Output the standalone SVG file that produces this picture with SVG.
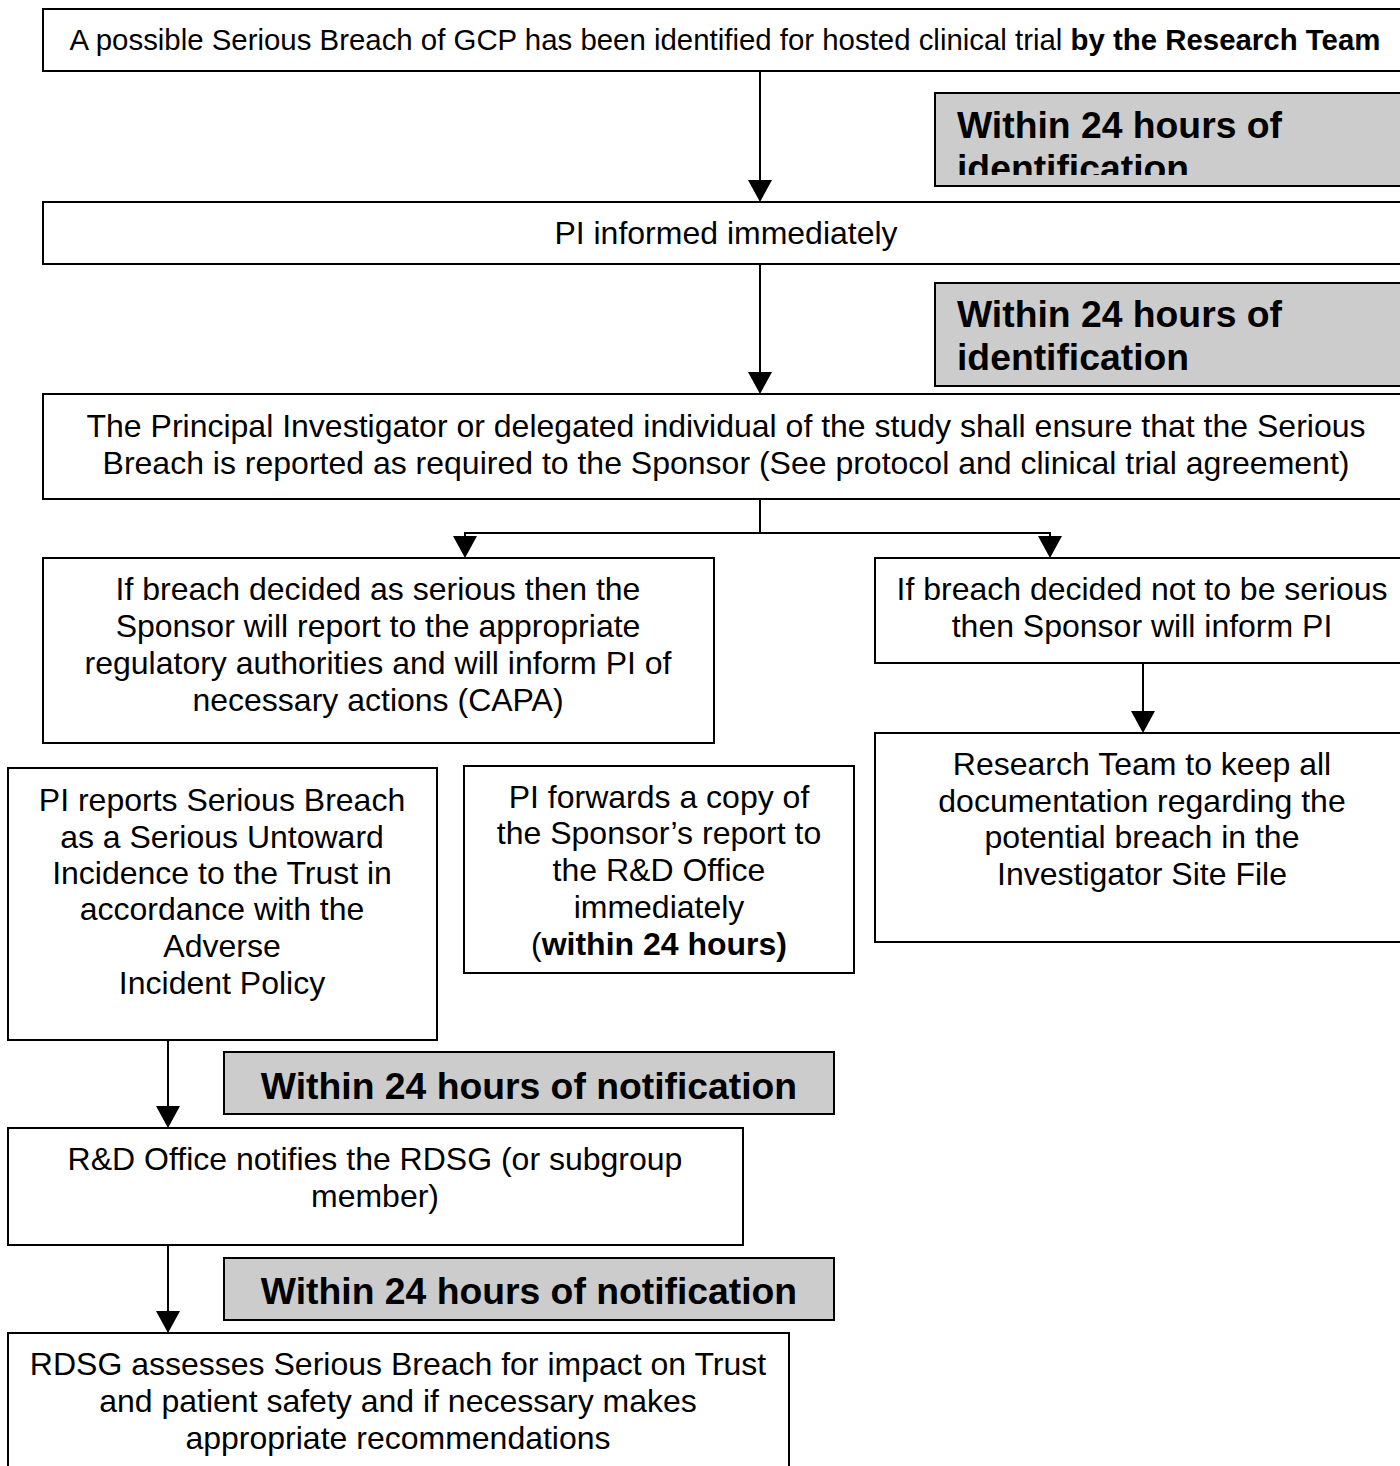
<svg xmlns="http://www.w3.org/2000/svg" width="1400" height="1466" viewBox="0 0 1400 1466">
<style>
.box{fill:#ffffff;stroke:#000;stroke-width:2}
.gray{fill:#cccccc;stroke:#000;stroke-width:2}
.t{font-family:"Liberation Sans",Arial,sans-serif;font-size:32px;fill:#000;text-anchor:middle}
.s{font-size:29.4px}
.g{font-family:"Liberation Sans",Arial,sans-serif;font-size:37.3px;font-weight:bold;fill:#000}
.c{fill:none;stroke:#000;stroke-width:2}
</style>
<defs>
<clipPath id="clip1"><rect x="935" y="94" width="470" height="81"/></clipPath>
</defs>
<g id="connectors">
<line class="c" x1="760" y1="71" x2="760" y2="190"/>
<line class="c" x1="760" y1="264" x2="760" y2="384"/>
<line class="c" x1="760" y1="499" x2="760" y2="533"/>
<polyline class="c" points="465,548 465,533 1050,533 1050,548"/>
<line class="c" x1="1143" y1="663" x2="1143" y2="723"/>
<line class="c" x1="168" y1="1040" x2="168" y2="1118"/>
<line class="c" x1="168" y1="1245" x2="168" y2="1323"/>
<g fill="#000">
<path d="M748,180 L772,180 L760,202 Z"/>
<path d="M748,372 L772,372 L760,394 Z"/>
<path d="M453,536 L477,536 L465,558 Z"/>
<path d="M1038,536 L1062,536 L1050,558 Z"/>
<path d="M1131,711 L1155,711 L1143,733 Z"/>
<path d="M156,1106 L180,1106 L168,1128 Z"/>
<path d="M156,1311 L180,1311 L168,1333 Z"/>
</g>
</g>
<g id="n1">
<rect class="box" x="43" y="9" width="1366" height="62"/>
<text class="t s" x="725" y="50">A possible Serious Breach of GCP has been identified for hosted clinical trial <tspan font-weight="bold">by the Research Team</tspan></text>
</g>
<g id="g1">
<rect class="gray" x="935" y="93" width="470" height="93"/>
<g clip-path="url(#clip1)">
<text class="g" x="957" y="138">Within 24 hours of</text>
<text class="g" x="957" y="181">identification</text>
</g>
</g>
<g id="n2">
<rect class="box" x="43" y="202" width="1366" height="62"/>
<text class="t" x="726" y="244">PI informed immediately</text>
</g>
<g id="g2">
<rect class="gray" x="935" y="283" width="470" height="103"/>
<text class="g" x="957" y="327">Within 24 hours of</text>
<text class="g" x="957" y="370">identification</text>
</g>
<g id="n3">
<rect class="box" x="43" y="394" width="1366" height="105"/>
<text class="t" x="726" y="437">The Principal Investigator or delegated individual of the study shall ensure that the Serious</text>
<text class="t" x="726" y="474">Breach is reported as required to the Sponsor (See protocol and clinical trial agreement)</text>
</g>
<g id="n4">
<rect class="box" x="43" y="558" width="671" height="185"/>
<text class="t" x="378" y="600">If breach decided as serious then the</text>
<text class="t" x="378" y="637">Sponsor will report to the appropriate</text>
<text class="t" x="378" y="674">regulatory authorities and will inform PI of</text>
<text class="t" x="378" y="711">necessary actions (CAPA)</text>
</g>
<g id="n5">
<rect class="box" x="875" y="558" width="534" height="105"/>
<text class="t" x="1142" y="600">If breach decided not to be serious</text>
<text class="t" x="1142" y="637">then Sponsor will inform PI</text>
</g>
<g id="n6">
<rect class="box" x="875" y="733" width="534" height="209"/>
<text class="t" x="1142" y="775">Research Team to keep all</text>
<text class="t" x="1142" y="812">documentation regarding the</text>
<text class="t" x="1142" y="848">potential breach in the</text>
<text class="t" x="1142" y="885">Investigator Site File</text>
</g>
<g id="n7">
<rect class="box" x="8" y="768" width="429" height="272"/>
<text class="t" x="222" y="811">PI reports Serious Breach</text>
<text class="t" x="222" y="848">as a Serious Untoward</text>
<text class="t" x="222" y="884">Incidence to the Trust in</text>
<text class="t" x="222" y="920">accordance with the</text>
<text class="t" x="222" y="957">Adverse</text>
<text class="t" x="222" y="994">Incident Policy</text>
</g>
<g id="n8">
<rect class="box" x="464" y="766" width="390" height="207"/>
<text class="t" x="659" y="808">PI forwards a copy of</text>
<text class="t" x="659" y="844">the Sponsor’s report to</text>
<text class="t" x="659" y="881">the R&amp;D Office</text>
<text class="t" x="659" y="918">immediately</text>
<text class="t" x="659" y="955">(<tspan font-weight="bold">within 24 hours)</tspan></text>
</g>
<g id="g3">
<rect class="gray" x="224" y="1052" width="610" height="62"/>
<text class="g" x="529" y="1099" text-anchor="middle">Within 24 hours of notification</text>
</g>
<g id="n9">
<rect class="box" x="8" y="1128" width="735" height="117"/>
<text class="t" x="375" y="1170">R&amp;D Office notifies the RDSG (or subgroup</text>
<text class="t" x="375" y="1207">member)</text>
</g>
<g id="g4">
<rect class="gray" x="224" y="1258" width="610" height="62"/>
<text class="g" x="529" y="1304" text-anchor="middle">Within 24 hours of notification</text>
</g>
<g id="n10">
<rect class="box" x="8" y="1333" width="781" height="150"/>
<text class="t" x="398" y="1375">RDSG assesses Serious Breach for impact on Trust</text>
<text class="t" x="398" y="1412">and patient safety and if necessary makes</text>
<text class="t" x="398" y="1449">appropriate recommendations</text>
</g>
</svg>
